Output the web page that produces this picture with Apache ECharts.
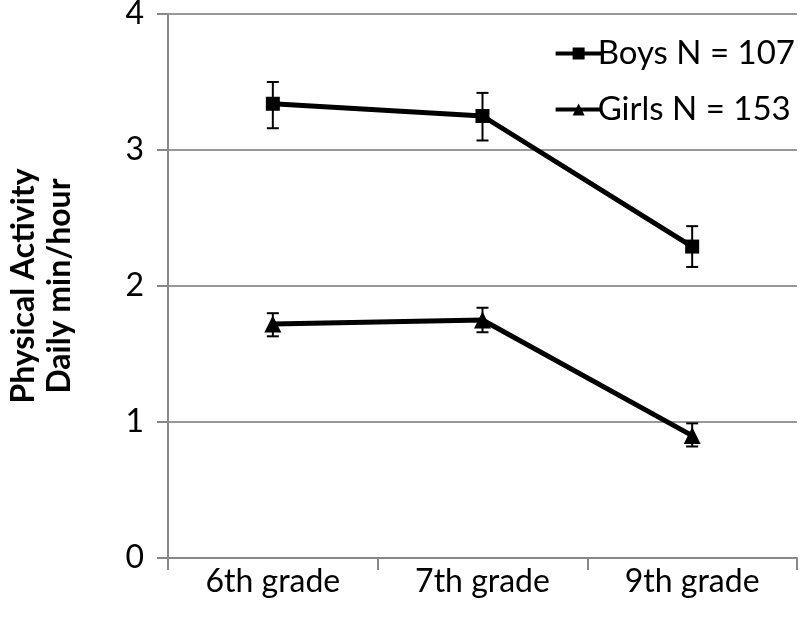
<!DOCTYPE html>
<html>
<head>
<meta charset="utf-8">
<script src="https://cdn.jsdelivr.net/npm/echarts@6/dist/echarts.min.js"></script>
<style>
html,body{margin:0;padding:0;background:#fff;}
#chart{width:800px;height:623px;}
</style>
</head>
<body>
<div id="chart"></div>
<script>
const categories = ['6th grade', '7th grade', '9th grade'];
const boysMean = [3.34, 3.25, 2.29];
const boysLow = [3.16, 3.07, 2.14];
const boysHigh = [3.50, 3.42, 2.44];
const girlsMean = [1.72, 1.75, 0.90];
const girlsLow = [1.63, 1.66, 0.82];
const girlsHigh = [1.80, 1.84, 0.99];
const yTicks = [0, 1, 2, 3, 4];

const FONT = 'Lato, "Open Sans", sans-serif';

function errorSeries(low, high) {
  return {
    type: 'custom',
    silent: true,
    z: 1,
    data: categories.map((c, i) => [i, low[i], high[i]]),
    renderItem: function (params, api) {
      const x = api.value(0);
      const lo = api.coord([x, api.value(1)]);
      const hi = api.coord([x, api.value(2)]);
      const w = 6;
      const style = { stroke: '#000', lineWidth: 2 };
      return {
        type: 'group',
        children: [
          { type: 'line', shape: { x1: lo[0], y1: lo[1], x2: hi[0], y2: hi[1] }, style: style },
          { type: 'line', shape: { x1: lo[0] - w, y1: lo[1], x2: lo[0] + w, y2: lo[1] }, style: style },
          { type: 'line', shape: { x1: hi[0] - w, y1: hi[1], x2: hi[0] + w, y2: hi[1] }, style: style }
        ]
      };
    }
  };
}

const chart = echarts.init(document.getElementById('chart'));
chart.setOption({
  animation: false,
  backgroundColor: '#fff',
  grid: { left: 168, right: 3, top: 14, bottom: 65, containLabel: false, outerBoundsMode: 'none' },
  legend: {
    orient: 'vertical',
    right: 0,
    top: 32,
    itemGap: 23,
    itemWidth: 46,
    itemHeight: 15,
    data: ['Boys N = 107', 'Girls N = 153'],
    lineStyle: { width: 4, color: '#000' },
    textStyle: { fontFamily: FONT, fontSize: 33, color: '#000', padding: [0, 0, 0, -9] }
  },
  xAxis: {
    type: 'category',
    data: categories,
    boundaryGap: true,
    axisLine: { lineStyle: { color: '#888', width: 2 } },
    axisTick: { show: true, length: 12, lineStyle: { color: '#888', width: 2 } },
    axisLabel: { fontFamily: FONT, fontSize: 32, color: '#000', margin: 8 }
  },
  yAxis: {
    type: 'value',
    min: yTicks[0],
    max: yTicks[yTicks.length - 1],
    interval: 1,
    name: 'Physical Activity\nDaily min/hour',
    nameLocation: 'middle',
    nameGap: 90,
    nameRotate: 90,
    nameTextStyle: { fontFamily: FONT, fontSize: 32, fontWeight: 'bold', color: '#000', lineHeight: 36 },
    axisLine: { show: true, lineStyle: { color: '#888', width: 2 } },
    axisTick: { show: true, length: 11, lineStyle: { color: '#888', width: 2 } },
    axisLabel: { fontFamily: FONT, fontSize: 32, color: '#000', margin: 24 },
    splitLine: { show: true, lineStyle: { color: '#999', width: 2 } }
  },
  series: [
    errorSeries(boysLow, boysHigh),
    errorSeries(girlsLow, girlsHigh),
    {
      name: 'Boys N = 107',
      type: 'line',
      data: boysMean,
      symbol: 'rect',
      symbolSize: 14,
      z: 3,
      lineStyle: { color: '#000', width: 5 },
      itemStyle: { color: '#000' }
    },
    {
      name: 'Girls N = 153',
      type: 'line',
      data: girlsMean,
      symbol: 'triangle',
      symbolSize: 17,
      z: 3,
      lineStyle: { color: '#000', width: 5 },
      itemStyle: { color: '#000' }
    }
  ]
});
</script>
</body>
</html>
